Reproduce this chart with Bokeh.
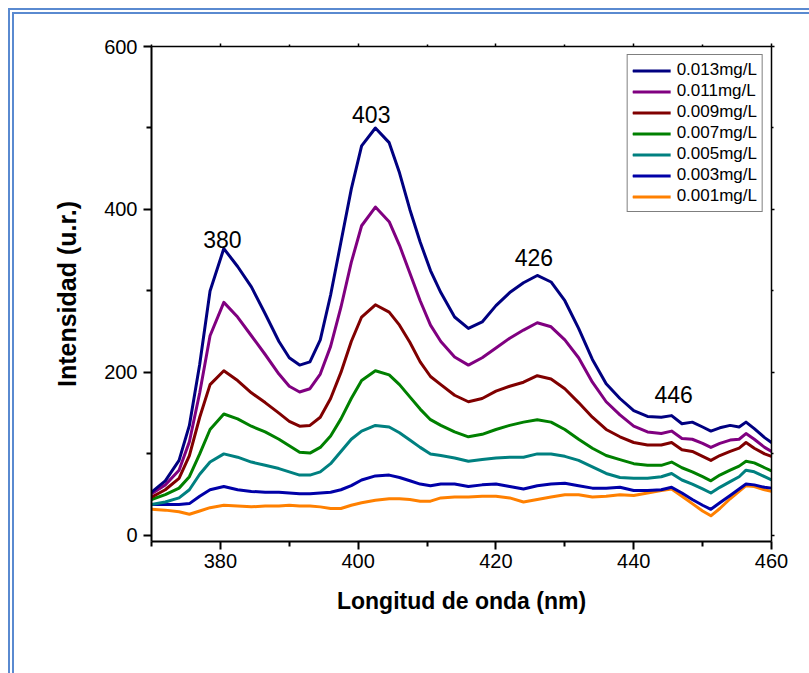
import numpy as np
from bokeh.plotting import figure
from bokeh.models import Range1d, LinearAxis, Legend, LegendItem, Label, FixedTicker
from bokeh.layouts import column
from bokeh.embed import file_html
from bokeh.resources import INLINE

# ---------------- data ----------------
wavelength = [370, 372, 374, 375.5, 377, 378.5, 380.5, 382.5, 384.5, 386.5, 388.5, 390,
              391.5, 393, 394.5, 396, 397.5, 399, 400.5, 402.5, 404.5, 406, 407.5, 409,
              410.5, 412, 414, 416, 418, 420, 422, 424, 426, 428, 430, 432, 434, 436,
              438, 440, 442, 444, 445.5, 447, 448.5, 450, 451.2, 452.5, 454, 455.3,
              456.3, 457.5, 459, 460]

c013 = [53, 67, 92, 135, 210, 300, 352, 330, 305, 272, 238, 218,
        209, 213, 240, 295, 360, 425, 478, 500, 482, 445, 400, 360,
        325, 298, 268, 254, 262, 282, 298, 310, 319, 311, 288, 254, 216, 186,
        168, 153, 146, 145, 147, 137, 139, 133, 128, 132, 135, 133,
        139, 131, 120, 114]

c011 = [51, 62, 80, 115, 175, 245, 286, 268, 245, 222, 198, 183,
        176, 180, 198, 232, 280, 335, 380, 403, 385, 356, 322, 288,
        258, 238, 219, 209, 218, 230, 242, 252, 261, 256, 240, 218, 188, 164,
        148, 134, 127, 125, 128, 119, 118, 113, 108, 113, 117, 118,
        125, 118, 108, 103]

c009 = [47, 56, 70, 98, 145, 185, 202, 190, 175, 163, 150, 140,
        134, 135, 145, 168, 200, 238, 268, 283, 274, 258, 237, 213,
        195, 185, 172, 164, 168, 177, 183, 188, 196, 192, 180, 163, 145, 130,
        121, 114, 111, 111, 114, 105, 103, 97, 92, 98, 103, 107,
        114, 107, 100, 97]

c007 = [44, 50, 58, 72, 100, 130, 149, 143, 134, 127, 118, 110,
        102, 101, 108, 122, 143, 168, 190, 202, 197, 185, 170, 155,
        142, 135, 127, 121, 124, 130, 135, 139, 142, 139, 130, 118, 107, 98,
        93, 88, 86, 86, 90, 83, 78, 72, 67, 74, 80, 85,
        91, 89, 83, 79]

c005 = [38, 41, 46, 56, 75, 90, 100, 96, 90, 86, 82, 78,
        74, 74, 78, 88, 103, 118, 128, 135, 133, 126, 117, 108,
        100, 98, 95, 91, 93, 95, 96, 96, 100, 100, 97, 92, 84, 76,
        71, 70, 70, 72, 76, 68, 63, 57, 52, 59, 66, 72,
        80, 78, 72, 68]

c003 = [38, 38, 38, 39, 48, 56, 60, 56, 54, 53, 53, 52,
        51, 51, 52, 53, 56, 61, 68, 73, 74, 71, 67, 63,
        61, 63, 63, 60, 62, 63, 60, 57, 61, 63, 64, 61, 58, 58,
        59, 55, 55, 56, 59, 52, 44, 37, 32, 40, 49, 57,
        63, 62, 59, 58]

c001 = [32, 31, 29, 26, 30, 34, 37, 36, 35, 36, 36, 37,
        36, 36, 35, 33, 33, 37, 40, 43, 45, 45, 44, 42,
        42, 46, 47, 47, 48, 48, 46, 41, 44, 47, 50, 50, 47, 48,
        50, 49, 52, 55, 57, 48, 39, 30, 24, 33, 45, 54,
        61, 60, 56, 54]

series_labels = ["0.013mg/L", "0.011mg/L", "0.009mg/L", "0.007mg/L",
                 "0.005mg/L", "0.003mg/L", "0.001mg/L"]
series_values = [c013, c011, c009, c007, c005, c003, c001]
series_colors = ["#000080", "#800080", "#800000", "#008000",
                 "#008080", "#0000A8", "#FF8000"]

peak_labels = ["380", "403", "426", "446"]

x_major_ticks = [380, 400, 420, 440, 460]
x_minor_ticks = [370, 390, 410, 430, 450]
y_major_ticks = [0, 200, 400, 600]
y_minor_ticks = [100, 300, 500]

x_title = "Longitud de onda (nm)"
y_title = "Intensidad (u.r.)"

FONT = "Liberation Sans"

# ---------------- figure ----------------
p = figure(frame_width=620, frame_height=495,
           min_border_left=137, min_border_right=38,
           min_border_top=32, min_border_bottom=132,
           x_range=Range1d(370, 460), y_range=Range1d(-7.5, 600),
           output_backend="svg", toolbar_location=None)
p.background_fill_color = "white"
p.border_fill_color = "white"
p.outline_line_color = None
p.xgrid.visible = False
p.ygrid.visible = False

renderers = [None] * len(series_values)
# draw lowest concentration first
for i in range(len(series_values) - 1, -1, -1):
    renderers[i] = p.line(wavelength, series_values[i], line_color=series_colors[i],
                          line_width=3, line_join="round", line_cap="round")


def style_axis(ax, show_labels, tick_out, minor_out, lw):
    ax.axis_line_color = "black"
    ax.axis_line_width = lw
    ax.major_tick_line_color = "black"
    ax.minor_tick_line_color = "black"
    ax.major_tick_line_width = lw
    ax.minor_tick_line_width = lw
    ax.major_tick_out = tick_out
    ax.major_tick_in = 0
    ax.minor_tick_out = minor_out
    ax.minor_tick_in = 0
    if not show_labels:
        ax.major_label_text_font_size = "0px"
        ax.major_label_text_color = None


xax = p.xaxis[0]
yax = p.yaxis[0]
xax.ticker = FixedTicker(ticks=x_major_ticks, minor_ticks=x_minor_ticks)
yax.ticker = FixedTicker(ticks=y_major_ticks, minor_ticks=y_minor_ticks)
style_axis(xax, True, 8, 5, 2)
style_axis(yax, True, 8, 5, 2)
for ax in (xax, yax):
    ax.major_label_text_font = FONT
    ax.major_label_text_font_size = "20px"
    ax.major_label_text_color = "black"
    ax.axis_label_text_font = FONT
    ax.axis_label_text_font_style = "bold"
    ax.axis_label_text_color = "black"
xax.axis_label_text_font_size = "23px"
yax.axis_label_text_font_size = "25px"
xax.major_label_standoff = 4
yax.major_label_standoff = 6
xax.axis_label = x_title
yax.axis_label = y_title
xax.axis_label_standoff = 17
yax.axis_label_standoff = 20

top = LinearAxis(ticker=FixedTicker(ticks=x_major_ticks, minor_ticks=x_minor_ticks))
right = LinearAxis(ticker=FixedTicker(ticks=y_major_ticks, minor_ticks=y_minor_ticks))
style_axis(top, False, 3, 2, 1.5)
style_axis(right, False, 3, 2, 1.5)
p.add_layout(top, "above")
p.add_layout(right, "right")

legend = Legend(items=[LegendItem(label=lab, renderers=[r])
                       for lab, r in zip(series_labels, renderers)],
                location="top_right")
legend.margin = 8
legend.padding = 5
legend.spacing = 1
legend.glyph_width = 38
legend.glyph_height = 19
legend.label_height = 19
legend.label_standoff = 6
legend.label_text_font = FONT
legend.label_text_font_size = "17px"
legend.label_text_color = "black"
legend.border_line_color = "black"
legend.border_line_width = 1
legend.background_fill_color = "white"
legend.background_fill_alpha = 1
p.add_layout(legend, "center")

# peak annotations above the top curve
top_curve = np.array(c013, dtype=float)
wl = np.array(wavelength, dtype=float)
x_shift = {"380": 0.3, "403": -1.1, "426": -0.5, "446": -0.2}
y_shift = {"380": 20, "403": 17, "426": 18, "446": 24}
for lab in peak_labels:
    xv = float(lab)
    yv = float(np.interp(xv, wl, top_curve))
    p.add_layout(Label(x=xv + x_shift[lab], y=yv, y_offset=y_shift[lab], text=lab,
                       text_font=FONT, text_font_size="23px", text_color="black",
                       text_align="center", text_baseline="middle"))

page = column(p, margin=(8, 0, 0, 8),
              styles={"border-top": "6px double #5a8ad0",
                      "border-left": "6px double #5a8ad0"})

open("out.html", "w").write(file_html(page, INLINE))
